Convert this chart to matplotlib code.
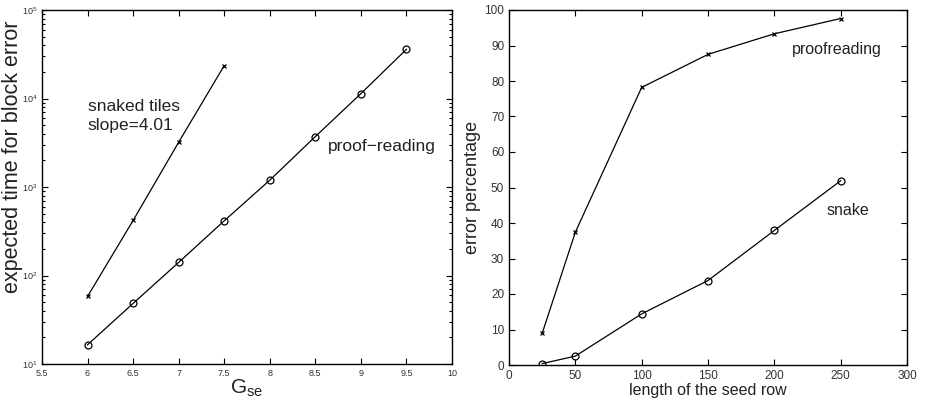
import matplotlib
matplotlib.use("Agg")
import matplotlib.pyplot as plt
from matplotlib.ticker import FixedLocator, LogLocator, LogFormatterMathtext, NullFormatter

plt.rcParams['font.family'] = ['Liberation Sans', 'DejaVu Sans']

# Left panel data
g_snake = [6, 6.5, 7, 7.5]
t_snake = [58, 419, 3207, 23550]
g_proof = [6, 6.5, 7, 7.5, 8, 8.5, 9, 9.5]
t_proof = [16.5, 48.4, 140.6, 415, 1194, 3715, 11350, 35960]
left_xticks = [5.5, 6, 6.5, 7, 7.5, 8, 8.5, 9, 9.5, 10]
left_xticklabels = ['5.5', '6', '6.5', '7', '7.5', '8', '8.5', '9', '9.5', '10']

# Right panel data
seed_len = [25, 50, 100, 150, 200, 250]
err_proof = [8.9, 37.4, 78.2, 87.5, 93.3, 97.6]
err_snake = [0.4, 2.5, 14.4, 23.8, 37.9, 51.9]
right_xticks = [0, 50, 100, 150, 200, 250, 300]
right_yticks = [0, 10, 20, 30, 40, 50, 60, 70, 80, 90, 100]

fig = plt.figure(figsize=(9.26, 4.04), dpi=100)
W, H = 926, 404
ax1 = fig.add_axes([42/W, 1 - 364/H, (452-42)/W, (364-10)/H])
ax2 = fig.add_axes([509/W, 1 - 365/H, (907-509)/W, (365-10)/H])

for ax in (ax1, ax2):
    ax.tick_params(which='both', direction='in', top=True, right=True, width=0.8, colors='black')
    ax.tick_params(which='major', length=4)
    ax.tick_params(which='minor', length=2.5)
    for s in ax.spines.values():
        s.set_linewidth(1.0)

# Left
ax1.plot(g_snake, t_snake, color='black', lw=0.9, marker='x', ms=3.5, mew=0.9)
ax1.plot(g_proof, t_proof, color='black', lw=0.9, marker='o', ms=5, mfc='none', mew=0.9)
ax1.set_yscale('log')
ax1.set_xlim(5.5, 10)
ax1.set_ylim(10, 1e5)
ax1.xaxis.set_major_locator(FixedLocator(left_xticks))
ax1.set_xticklabels(left_xticklabels)
ax1.yaxis.set_major_locator(FixedLocator([10, 100, 1000, 1e4, 1e5]))
ax1.yaxis.set_minor_locator(LogLocator(base=10, subs=range(2, 10)))
ax1.yaxis.set_minor_formatter(NullFormatter())
ax1.yaxis.set_major_formatter(LogFormatterMathtext())
ax1.tick_params(labelsize=6.5, labelcolor='#333333')
ax1.set_xlabel(r'G$_{\mathregular{se}}$', fontsize=15, color='#222222', labelpad=0)
ax1.set_ylabel('expected time for block error', fontsize=15.5, color='#222222')
ax1.yaxis.set_label_coords(-0.047, 0.585)
ax1.text(6.0, 9800, 'snaked tiles\nslope=4.01', fontsize=12.5, color='#222222',
         va='top', ha='left', linespacing=1.35)
ax1.text(8.64, 2865, 'proof\u2212reading', fontsize=12.5, color='#222222', va='center', ha='left')

# Right
ax2.plot(seed_len, err_proof, color='black', lw=0.9, marker='x', ms=3.5, mew=0.9)
ax2.plot(seed_len, err_snake, color='black', lw=0.9, marker='o', ms=5, mfc='none', mew=0.9)
ax2.set_xlim(0, 300)
ax2.set_ylim(0, 100)
ax2.xaxis.set_major_locator(FixedLocator(right_xticks))
ax2.yaxis.set_major_locator(FixedLocator(right_yticks))
ax2.tick_params(labelsize=8.5, labelcolor='#333333')
ax2.set_xlabel('length of the seed row', fontsize=11.5, color='#222222', labelpad=1)
ax2.set_ylabel('error percentage', fontsize=13, color='#222222', labelpad=2)
ax2.text(213, 88.9, 'proofreading', fontsize=11.5, color='#222222', va='center', ha='left')
ax2.text(239.6, 43.4, 'snake', fontsize=11.5, color='#222222', va='center', ha='left')

fig.savefig('out.png', dpi=100)
